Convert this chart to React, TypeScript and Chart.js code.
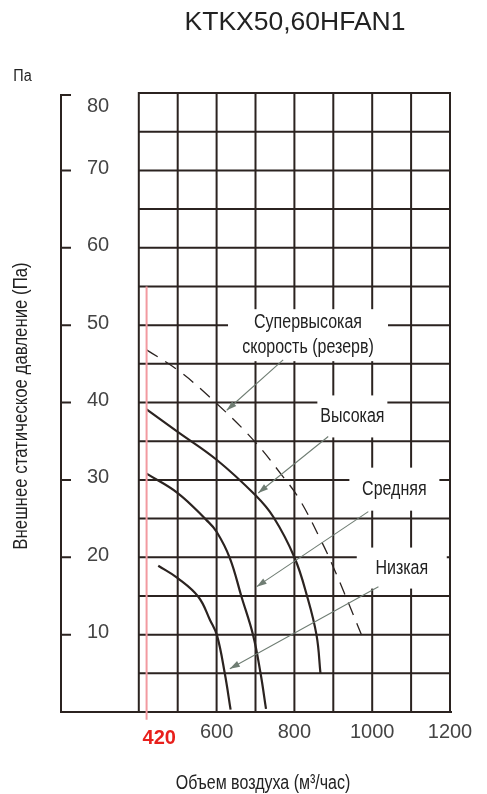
import React, { useEffect, useRef } from "react";
import { Chart, registerables } from "chart.js";

Chart.register(...registerables);

// ---- text ----
const TITLE = "KTKX50,60HFAN1";
const Y_UNIT = "Па";
const Y_TITLE = "Внешнее статическое давление (Па)";
const X_TITLE = "Объем воздуха (м³/час)";

// ---- axes ----
const X_MIN = 200;
const X_MAX = 1200;
const Y_MIN = 0;
const Y_MAX = 80;
const GRID_X_FROM = 400;
const GRID_X_STEP = 100;
const GRID_Y_STEP = 5;
const X_TICKS = [600, 800, 1000, 1200];
const Y_TICKS = [10, 20, 30, 40, 50, 60, 70, 80];

// ---- marked flow ----
const MARKED_FLOW = 420;
const MARKED_TOP = 55;
const MARKED_BOTTOM = -1;

// ---- fan curves (m3/h, Pa) ----
const SUPER_X = [420, 500, 580, 690, 771, 814, 870, 896, 943, 981];
const SUPER_Y = [46.8, 44.2, 40.8, 35.4, 30.4, 27.4, 22.0, 19.2, 13.6, 8.9];
const HIGH_X = [420, 500, 600, 700, 746, 800, 833, 857, 867];
const HIGH_Y = [39.1, 36.2, 32.6, 28.0, 25.2, 20.0, 14.9, 9.9, 5.0];
const MID_X = [420, 500, 574, 600, 634, 664, 694, 713, 727];
const MID_Y = [30.8, 28.3, 24.8, 23.3, 19.9, 14.9, 9.9, 5.0, 0.4];
const LOW_X = [450, 500, 553, 583, 601, 621, 636];
const LOW_Y = [18.9, 17.3, 14.9, 11.9, 9.9, 5.0, 0.3];

// ---- curve labels and leader arrows ----
const LABEL_TEXTS = [["Супервысокая", "скорость (резерв)"], ["Высокая"], ["Средняя"], ["Низкая"]];
const LABEL_X = [835, 949, 1057, 1076];
const LABEL_Y = [48.7, 38.2, 28.8, 18.6];
const ARROW_FROM_X = [771, 887, 990, 1016];
const ARROW_FROM_Y = [45.5, 35.6, 25.9, 16.2];
const ARROW_TO_X = [626, 707, 703, 634];
const ARROW_TO_Y = [39.0, 28.3, 16.2, 5.6];

// ---- styles ----
const INK = "#2b2320";
const TEXT = "#222222";
const TICK_TEXT = "#444444";
const ARROW = "#6f7d73";
const RED_LINE = "#f29aa0";
const RED_TEXT = "#e8201c";
const FONT = "'Liberation Sans', Arial, Helvetica, sans-serif";
const LABEL_BOX = [[160, 52], [70, 42], [90, 43], [90, 41]];

const toPts = (xs: number[], ys: number[]) => xs.map((x, i) => ({ x, y: ys[i] }));

function drawText(
  ctx: CanvasRenderingContext2D,
  text: string,
  x: number,
  y: number,
  font: string,
  color: string,
  sx = 1,
  align: CanvasTextAlign = "center",
  rot = 0
) {
  ctx.save();
  ctx.translate(x, y);
  if (rot) ctx.rotate(rot);
  ctx.scale(sx, 1);
  ctx.font = font;
  ctx.fillStyle = color;
  ctx.textAlign = align;
  ctx.textBaseline = "middle";
  ctx.fillText(text, 0, 0);
  ctx.restore();
}

const fanPlugin = {
  id: "fanPlugin",
  beforeDatasetsDraw(chart: any) {
    const { ctx, scales } = chart;
    const X = (v: number) => scales.x.getPixelForValue(v);
    const Y = (v: number) => scales.y.getPixelForValue(v);
    ctx.save();
    // grid
    ctx.strokeStyle = INK;
    ctx.lineWidth = 2;
    ctx.lineCap = "square";
    ctx.beginPath();
    for (let v = GRID_X_FROM; v <= X_MAX; v += GRID_X_STEP) {
      ctx.moveTo(X(v), Y(Y_MAX));
      ctx.lineTo(X(v), Y(Y_MIN));
    }
    for (let v = GRID_Y_STEP; v <= Y_MAX; v += GRID_Y_STEP) {
      ctx.moveTo(X(GRID_X_FROM), Y(v));
      ctx.lineTo(X(X_MAX), Y(v));
    }
    ctx.stroke();
    // axes
    ctx.lineCap = "butt";
    ctx.beginPath();
    ctx.moveTo(X(X_MIN), Y(Y_MAX) + 1);
    ctx.lineTo(X(X_MIN), Y(Y_MIN));
    ctx.lineTo(X(X_MAX) + 2, Y(Y_MIN));
    ctx.stroke();
    ctx.beginPath();
    Y_TICKS.forEach((t) => {
      const py = t === Y_MAX ? Y(t) + 2 : Y(t);
      ctx.moveTo(X(X_MIN) - 1, py);
      ctx.lineTo(X(X_MIN) + 10, py);
    });
    ctx.stroke();
    // white label boxes
    ctx.fillStyle = "#ffffff";
    LABEL_TEXTS.forEach((_, i) => {
      const [w, h] = LABEL_BOX[i];
      ctx.fillRect(X(LABEL_X[i]) - w / 2, Y(LABEL_Y[i]) - h / 2, w, h);
    });
    ctx.restore();
  },
  afterDatasetsDraw(chart: any) {
    const { ctx, scales, chartArea } = chart;
    const X = (v: number) => scales.x.getPixelForValue(v);
    const Y = (v: number) => scales.y.getPixelForValue(v);
    ctx.save();
    // leader arrows
    ctx.strokeStyle = ARROW;
    ctx.fillStyle = ARROW;
    ctx.lineWidth = 1.1;
    ARROW_FROM_X.forEach((_, i) => {
      const x0 = X(ARROW_FROM_X[i]);
      const y0 = Y(ARROW_FROM_Y[i]);
      const x1 = X(ARROW_TO_X[i]);
      const y1 = Y(ARROW_TO_Y[i]);
      ctx.beginPath();
      ctx.moveTo(x0, y0);
      ctx.lineTo(x1, y1);
      ctx.stroke();
      const a = Math.atan2(y1 - y0, x1 - x0);
      const L = 10;
      const W = 3.2;
      ctx.beginPath();
      ctx.moveTo(x1, y1);
      ctx.lineTo(x1 - L * Math.cos(a) + W * Math.sin(a), y1 - L * Math.sin(a) - W * Math.cos(a));
      ctx.lineTo(x1 - L * Math.cos(a) - W * Math.sin(a), y1 - L * Math.sin(a) + W * Math.cos(a));
      ctx.closePath();
      ctx.fill();
    });
    // curve labels
    LABEL_TEXTS.forEach((lines, i) => {
      const cx = X(LABEL_X[i]);
      const cy = Y(LABEL_Y[i]);
      const lh = 25.6;
      lines.forEach((ln, j) => {
        const yy = cy + (j - (lines.length - 1) / 2) * lh;
        drawText(ctx, ln, cx, yy, `20px ${FONT}`, TEXT, 0.8);
      });
    });
    // y tick labels
    Y_TICKS.forEach((t) => {
      const py = Math.max(Y(t) - 2, chartArea.top + 13);
      drawText(ctx, String(t), X(X_MIN) + 37, py, `20px ${FONT}`, TICK_TEXT);
    });
    // x tick labels
    const xl = Y(Y_MIN) + 20;
    X_TICKS.forEach((t) => {
      drawText(ctx, String(t), X(t), xl, `20px ${FONT}`, TICK_TEXT);
    });
    drawText(ctx, String(MARKED_FLOW), X(MARKED_FLOW) - 4, xl + 6, `bold 20px ${FONT}`, RED_TEXT, 1, "left");
    // titles
    drawText(ctx, TITLE, 295, 23, `26.5px ${FONT}`, TEXT);
    drawText(ctx, Y_UNIT, 22.5, 77, `16px ${FONT}`, TEXT, 0.9);
    drawText(ctx, Y_TITLE, 21.5, 406, `20px ${FONT}`, TEXT, 0.84, "center", -Math.PI / 2);
    drawText(ctx, X_TITLE, 263, 783, `20px ${FONT}`, TEXT, 0.8);
    ctx.restore();
  },
};

export default function App() {
  const ref = useRef<HTMLCanvasElement | null>(null);
  useEffect(() => {
    if (!ref.current) return;
    const curve = (xs: number[], ys: number[], dash: number[] = [], width = 2.2) => ({
      data: toPts(xs, ys),
      borderColor: INK,
      borderWidth: width,
      borderDash: dash,
      pointRadius: 0,
      fill: false,
      tension: 0.4,
    });
    const chart = new Chart(ref.current, {
      type: "line",
      data: {
        datasets: [
          {
            data: [
              { x: MARKED_FLOW, y: MARKED_TOP },
              { x: MARKED_FLOW, y: MARKED_BOTTOM },
            ],
            borderColor: RED_LINE,
            borderWidth: 2,
            pointRadius: 0,
            clip: false as any,
          },
          curve(SUPER_X, SUPER_Y, [13, 9], 1.3),
          curve(HIGH_X, HIGH_Y),
          curve(MID_X, MID_Y),
          curve(LOW_X, LOW_Y),
        ],
      },
      options: {
        animation: false,
        responsive: false,
        maintainAspectRatio: false,
        devicePixelRatio: 1,
        layout: { padding: { left: 61, right: 37, top: 93, bottom: 82 } },
        scales: {
          x: { type: "linear", min: X_MIN, max: X_MAX, display: false },
          y: { type: "linear", min: Y_MIN, max: Y_MAX, display: false },
        },
        plugins: { legend: { display: false }, tooltip: { enabled: false }, title: { display: false } },
        elements: { point: { radius: 0 } },
      },
      plugins: [fanPlugin],
    });
    return () => chart.destroy();
  }, []);
  return (
    <div style={{ position: "fixed", left: 0, top: 0, width: 487, height: 794, background: "#fff" }}>
      <canvas ref={ref} width={487} height={794} style={{ display: "block", width: 487, height: 794 }} />
    </div>
  );
}
